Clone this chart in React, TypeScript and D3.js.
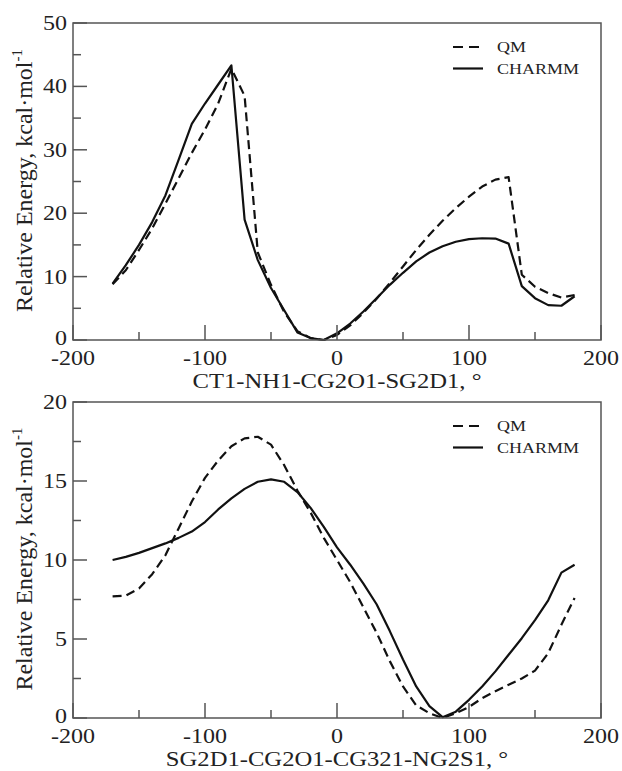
import React from "react";
import * as d3 from "d3";

// ---------- data ----------
const angles = [-170, -160, -150, -140, -130, -120, -110, -100, -90, -80, -70, -60, -50, -40, -30, -20, -10, 0,
  10, 20, 30, 40, 50, 60, 70, 80, 90, 100, 110, 120, 130, 140, 150, 160, 170, 180];

// Panel 1: CT1-NH1-CG2O1-SG2D1
const qmTop = [8.8, 11.0, 14.2, 17.6, 21.5, 25.5, 29.5, 33.2, 37.3, 42.8, 38.5, 13.8, 8.7, 4.4, 1.4, 0.3, 0.0, 0.8,
  2.3, 4.3, 6.5, 9.0, 11.6, 14.2, 16.6, 18.8, 20.8, 22.6, 24.2, 25.3, 25.7, 10.3, 8.4, 7.4, 6.7, 7.1];
const charmmTop = [8.9, 11.8, 15.0, 18.6, 22.8, 28.4, 34.1, 37.3, 40.3, 43.3, 19.0, 12.6, 8.2, 4.7, 1.2, 0.3, 0.0, 1.05,
  2.6, 4.5, 6.6, 8.7, 10.6, 12.4, 13.8, 14.8, 15.5, 15.9, 16.05, 16.0, 15.2, 8.5, 6.6, 5.5, 5.4, 6.9];

// Panel 2: SG2D1-CG2O1-CG321-NG2S1
const qmBottom = [7.7, 7.75, 8.2, 9.1, 10.3, 12.0, 13.7, 15.2, 16.3, 17.2, 17.7, 17.8, 17.3, 16.0, 14.4, 13.0, 11.4, 10.0,
  8.6, 7.0, 5.4, 3.6, 2.0, 0.8, 0.3, 0.0, 0.3, 0.7, 1.25, 1.7, 2.1, 2.5, 3.0, 4.1, 5.9, 7.6];
const charmmBottom = [10.0, 10.2, 10.45, 10.75, 11.05, 11.4, 11.8, 12.4, 13.2, 13.9, 14.5, 14.95, 15.1, 14.95, 14.3, 13.3, 12.1, 10.8,
  9.7, 8.5, 7.2, 5.5, 3.7, 2.0, 0.75, 0.05, 0.4, 1.15, 2.0, 2.95, 4.0, 5.05, 6.2, 7.45, 9.2, 9.7];

const xMajorTicks = [-200, -100, 0, 100, 200];
const xMinorTicks = [-150, -50, 50, 150];
const yMajorTop = [0, 10, 20, 30, 40, 50];
const yMinorTop = [5, 15, 25, 35, 45];
const yMajorBottom = [0, 5, 10, 15, 20];
const yMinorBottom = [2.5, 7.5, 12.5, 17.5];

const seriesNames = ["QM", "CHARMM"];
const titles = ["CT1-NH1-CG2O1-SG2D1, \u00b0", "SG2D1-CG2O1-CG321-NG2S1, \u00b0"];

// ---------- layout ----------
const W = 622;
const H = 771;
const LEFT = 73;
const RIGHT = 601;
const FONT = "'Liberation Serif', 'Times New Roman', serif";
const FRAME = "#555";
const INK = "#111";

type PanelProps = {
  top: number;
  bottom: number;
  yMax: number;
  yMajor: number[];
  yMinor: number[];
  qm: number[];
  charmm: number[];
  title: string;
};

function Panel({ top, bottom, yMax, yMajor, yMinor, qm, charmm, title }: PanelProps) {
  const x = d3.scaleLinear().domain([-200, 200]).range([LEFT, RIGHT]);
  const y = d3.scaleLinear().domain([0, yMax]).range([bottom, top]);
  const line = d3
    .line<number>()
    .x((_, i) => x(angles[i]))
    .y((d) => y(d));

  const legendX0 = 453;
  const legendX1 = 483;
  const legendTextX = 497;
  const rows = [top + 24, top + 45.5];

  return (
    <g>
      {/* curves */}
      <path d={line(qm) || ""} fill="none" stroke={INK} strokeWidth={2.2} strokeDasharray="9,5" strokeLinejoin="round" />
      <path d={line(charmm) || ""} fill="none" stroke={INK} strokeWidth={2.2} strokeLinejoin="round" />

      {/* frame */}
      <rect x={LEFT} y={top} width={RIGHT - LEFT} height={bottom - top} fill="none" stroke={FRAME} strokeWidth={1.5} />

      {/* x ticks */}
      {xMajorTicks.map((t) => (
        <line key={"xM" + t} x1={x(t)} x2={x(t)} y1={bottom} y2={bottom - 15} stroke={FRAME} strokeWidth={1.5} />
      ))}
      {xMinorTicks.map((t) => (
        <line key={"xm" + t} x1={x(t)} x2={x(t)} y1={bottom} y2={bottom - 8} stroke={FRAME} strokeWidth={1.5} />
      ))}
      {/* y ticks */}
      {yMajor.map((t) => (
        <line key={"yM" + t} x1={LEFT} x2={LEFT + 14} y1={y(t)} y2={y(t)} stroke={FRAME} strokeWidth={1.5} />
      ))}
      {yMinor.map((t) => (
        <line key={"ym" + t} x1={LEFT} x2={LEFT + 8} y1={y(t)} y2={y(t)} stroke={FRAME} strokeWidth={1.5} />
      ))}

      {/* x tick labels */}
      {xMajorTicks.map((t) => (
        <text
          key={"xl" + t}
          transform={`translate(${x(t)},${bottom + 24.5}) scale(1.2,1)`}
          textAnchor="middle"
          fontFamily={FONT}
          fontSize={20}
          fill="#222"
        >
          {t}
        </text>
      ))}
      {/* y tick labels */}
      {yMajor.map((t) => (
        <text
          key={"yl" + t}
          transform={`translate(${LEFT - 6},${y(t) + (t === 0 ? 5 : 7)}) scale(1.2,1)`}
          textAnchor="end"
          fontFamily={FONT}
          fontSize={20}
          fill="#222"
        >
          {t}
        </text>
      ))}

      {/* x title */}
      <text
        transform={`translate(${(LEFT + RIGHT) / 2},${bottom + 48}) scale(1.12,1)`}
        textAnchor="middle"
        fontFamily={FONT}
        fontSize={22}
        fill="#222"
      >
        {title}
      </text>

      {/* y title */}
      <text
        transform={`translate(32,${(top + bottom) / 2 - 1}) rotate(-90)`}
        textAnchor="middle"
        fontFamily={FONT}
        fontSize={24}
        fill="#222"
      >
        Relative Energy, kcal·mol
        <tspan fontSize={15} dy={-10}>
          -1
        </tspan>
      </text>

      {/* legend */}
      {seriesNames.map((name, i) => (
        <g key={name}>
          <line
            x1={legendX0}
            x2={legendX1}
            y1={rows[i]}
            y2={rows[i]}
            stroke={INK}
            strokeWidth={2.2}
            strokeDasharray={i === 0 ? "10,6" : undefined}
          />
          <text
            transform={`translate(${legendTextX},${rows[i] + 5}) scale(1.2,1)`}
            fontFamily={FONT}
            fontSize={15}
            fill="#222"
          >
            {name}
          </text>
        </g>
      ))}
    </g>
  );
}

export default function App() {
  return (
    <svg
      width={W}
      height={H}
      viewBox={`0 0 ${W} ${H}`}
      style={{ position: "absolute", left: 0, top: 0, background: "#fff" }}
    >
      <rect x={0} y={0} width={W} height={H} fill="#fff" />
      <Panel
        top={23}
        bottom={340}
        yMax={50}
        yMajor={yMajorTop}
        yMinor={yMinorTop}
        qm={qmTop}
        charmm={charmmTop}
        title={titles[0]}
      />
      <Panel
        top={402}
        bottom={718}
        yMax={20}
        yMajor={yMajorBottom}
        yMinor={yMinorBottom}
        qm={qmBottom}
        charmm={charmmBottom}
        title={titles[1]}
      />
    </svg>
  );
}
